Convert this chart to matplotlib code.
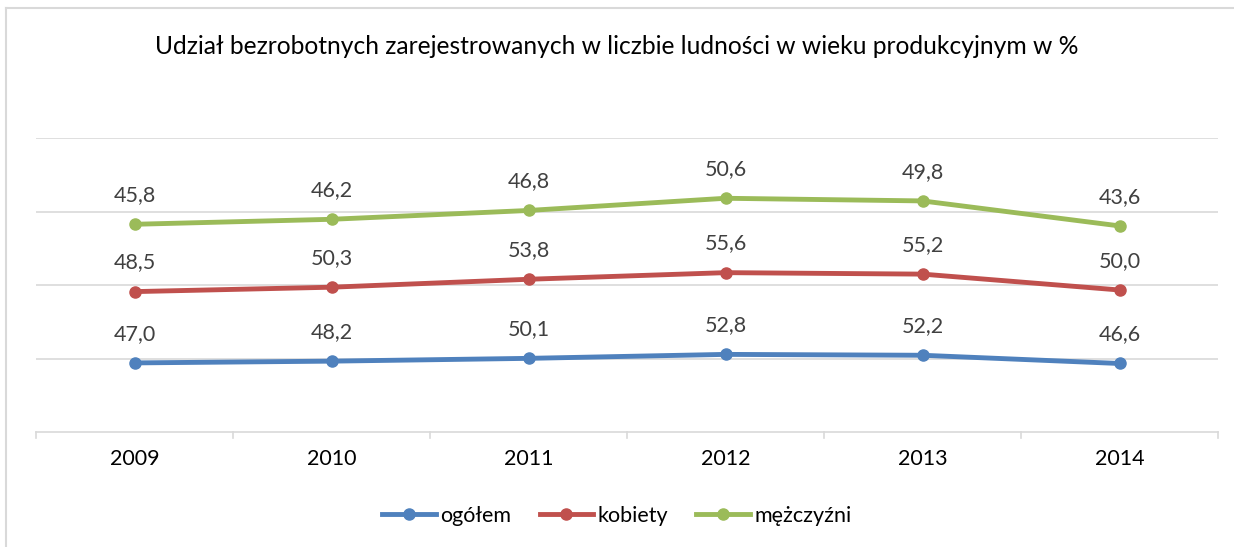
import numpy as np
import matplotlib.pyplot as plt
from matplotlib.lines import Line2D

plt.rcParams['font.family'] = ['Lato', 'DejaVu Sans']

years = ['2009', '2010', '2011', '2012', '2013', '2014']
ogolem = [47.0, 48.2, 50.1, 52.8, 52.2, 46.6]
kobiety = [48.5, 50.3, 53.8, 55.6, 55.2, 50.0]
mezczyzni = [45.8, 46.2, 46.8, 50.6, 49.8, 43.6]
series_names = ['ogółem', 'kobiety', 'mężczyźni']
colors = ['#4F81BD', '#C0504D', '#9BBB59']

def main():
    fig = plt.figure(figsize=(12.34, 5.47), dpi=100)
    ax = fig.add_axes([36 / 1234, 1 - 432 / 547, (1218 - 36) / 1234, (432 - 138) / 547])

    x = np.arange(len(years))
    stacked = np.cumsum(np.array([ogolem, kobiety, mezczyzni]), axis=0)
    raw = [ogolem, kobiety, mezczyzni]

    for i in range(3):
        ax.plot(x, stacked[i], color=colors[i], lw=3.5, marker='o', ms=8,
                solid_capstyle='round', zorder=3)
        for xi, yi, v in zip(x, stacked[i], raw[i]):
            ax.annotate(f'{v:.1f}'.replace('.', ','), (xi, yi), xytext=(0, 21),
                        textcoords='offset points', ha='center', va='center',
                        fontsize=15.5, color='#404040')

    ax.set_xlim(-0.5, len(years) - 0.5)
    ax.set_ylim(0, 200)
    ax.set_yticks([50, 100, 150, 200])
    ax.yaxis.grid(True, color='#D9D9D9', lw=1.2)
    ax.tick_params(axis='y', length=0, labelleft=False)
    ax.set_xticks(x)
    ax.set_xticklabels(years, fontsize=15.5, color='#000000')
    ax.tick_params(axis='x', length=0, pad=12)
    for b in np.arange(-0.5, len(years)):
        ax.plot([b, b], [0, -4], color='#D9D9D9', lw=1.2, clip_on=False)
    for s in ['top', 'right', 'left']:
        ax.spines[s].set_visible(False)
    ax.spines['bottom'].set_color('#D9D9D9')
    ax.spines['bottom'].set_linewidth(1.2)

    fig.text(0.5, 1 - 47 / 547, 'Udział bezrobotnych zarejestrowanych w liczbie ludności w wieku produkcyjnym w %',
             ha='center', va='center', fontsize=17.7)

    handles = [Line2D([0], [0], color=c, lw=3.5, marker='o', ms=8) for c in colors]
    fig.legend(handles, series_names, loc='center', bbox_to_anchor=(0.5, 1 - 516 / 547),
               ncol=3, frameon=False, fontsize=15.5, handlelength=2.5, handletextpad=0.2,
               columnspacing=1.3)

    fig.add_artist(Line2D([6 / 1234, 6 / 1234], [0, 1 - 7.5 / 547], color='#D9D9D9', lw=1.5))
    fig.add_artist(Line2D([6 / 1234, 1], [1 - 7.5 / 547, 1 - 7.5 / 547], color='#D9D9D9', lw=1.5))

    fig.savefig('out.png', dpi=100)

if __name__ == '__main__':
    main()
